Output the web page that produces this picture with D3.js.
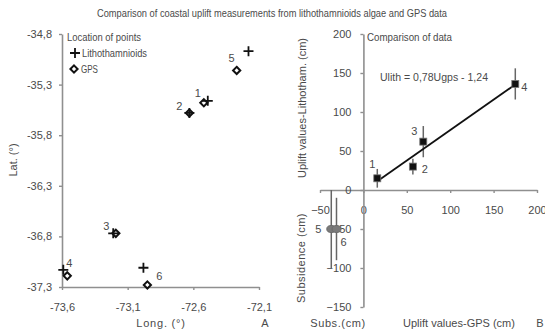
<!DOCTYPE html>
<html>
<head>
<meta charset="utf-8">
<script src="https://cdn.jsdelivr.net/npm/d3@7"></script>
<style>
  body { margin: 0; background: #fff; }
  svg { display: block; font-family: "Liberation Sans", Arial, sans-serif; }
</style>
</head>
<body>
<div id="chart"></div>
<script>
// Panel A - location of points (lon / lat)
const siteIds = ['1', '2', '3', '4', '5', '6'];
const lithLon = [-72.49, -72.63, -73.21, -73.59, -72.18, -72.98];
const lithLat = [-35.46, -35.58, -36.77, -37.13, -34.97, -37.11];
const gpsLon = [-72.52, -72.63, -73.19, -73.56, -72.27, -72.95];
const gpsLat = [-35.48, -35.58, -36.77, -37.19, -35.16, -37.28];
const lonTicks = [-73.6, -73.1, -72.6, -72.1];
const latTicks = [-34.8, -35.3, -35.8, -36.3, -36.8, -37.3];

// Panel B - comparison of data (cm)
const upliftIds = ['1', '2', '3', '4'];
const upliftGps = [16, 57, 69, 175];
const upliftLith = [15, 30, 62, 136];
const upliftErr = [12, 10, 20, 20];
const subsIds = ['5', '6'];
const subsGps = [-37, -31];
const subsLith = [-50, -50];
const subsErr = [50, 40];
const fitSlope = 0.78;
const fitIntercept = -1.24;
const gpsTicks = [-50, 0, 50, 100, 150, 200];
const lithTicks = [200, 150, 100, 50, 0, -50, -100, -150];

const W = 545, H = 332;
const axisCol = '#8f8f8f', textCol = '#4a4a4a';
const comma = v => String(v).replace('.', ',');

const svg = d3.select('#chart').append('svg')
  .attr('width', W).attr('height', H);

// condensed text: squeeze to the width seen in the original
function narrowText(sel, len) {
  sel.attr('textLength', len).attr('lengthAdjust', 'spacingAndGlyphs');
}

svg.append('text')
  .attr('x', 97).attr('y', 17)
  .attr('font-size', 10.5).attr('fill', textCol)
  .text('Comparison of coastal uplift measurements from lithothamnioids algae and GPS data')
  .call(narrowText, 350);

function styleAxis(g) {
  g.select('.domain').attr('stroke', axisCol).attr('stroke-width', 1.6);
  g.selectAll('.tick line').attr('stroke', axisCol).attr('stroke-width', 1.4);
  g.selectAll('.tick text').attr('fill', textCol).attr('font-size', 11);
}

// ---------- panel A ----------
const xA = d3.scaleLinear().domain([-73.6, -72.1]).range([62, 259]);
const yA = d3.scaleLinear().domain([-37.3, -34.8]).range([287, 34]);

svg.append('g')
  .attr('transform', `translate(0,${yA(-37.3)})`)
  .call(d3.axisBottom(xA).tickValues(lonTicks).tickFormat(comma).tickSize(3).tickPadding(13).tickSizeOuter(0))
  .call(styleAxis);

svg.append('g')
  .attr('transform', `translate(${xA(-73.6)},0)`)
  .call(d3.axisLeft(yA).tickValues(latTicks).tickFormat(comma).tickSize(3).tickPadding(7).tickSizeOuter(0))
  .call(styleAxis);

const plusPath = 'M-5,0H5M0,-5V5';
const diamondPath = 'M0,-3.6L3.6,0L0,3.6L-3.6,0Z';

const gA = svg.append('g');
gA.selectAll('.gps')
  .data(siteIds)
  .enter().append('path')
  .attr('class', 'gps')
  .attr('transform', (d, i) => `translate(${xA(gpsLon[i])},${yA(gpsLat[i])})`)
  .attr('d', diamondPath)
  .attr('fill', '#fff').attr('stroke', '#111').attr('stroke-width', 2);

gA.selectAll('.lith')
  .data(siteIds)
  .enter().append('path')
  .attr('class', 'lith')
  .attr('transform', (d, i) => `translate(${xA(lithLon[i])},${yA(lithLat[i])})`)
  .attr('d', plusPath)
  .attr('stroke', '#111').attr('stroke-width', 1.8);

// label offsets from the lithothamnioid marker
const labelOffA = [[-10, -8], [-10, -7], [-7, -7], [6, -7], [-17, 7], [16, 8]];
gA.selectAll('.lab')
  .data(siteIds)
  .enter().append('text')
  .attr('x', (d, i) => xA(lithLon[i]) + labelOffA[i][0])
  .attr('y', (d, i) => yA(lithLat[i]) + labelOffA[i][1])
  .attr('text-anchor', 'middle').attr('dy', '0.35em')
  .attr('font-size', 11).attr('fill', textCol)
  .text(d => d);

// legend
const leg = svg.append('g').attr('font-size', 10.5).attr('fill', textCol);
leg.append('text').attr('x', 67).attr('y', 41).text('Location of points').call(narrowText, 74);
leg.append('path').attr('transform', 'translate(75,53)').attr('d', plusPath)
  .attr('stroke', '#111').attr('stroke-width', 1.8);
leg.append('text').attr('x', 82).attr('y', 57).text('Lithothamnioids').call(narrowText, 65);
leg.append('path').attr('transform', 'translate(74,69)').attr('d', diamondPath)
  .attr('fill', '#fff').attr('stroke', '#111').attr('stroke-width', 2);
leg.append('text').attr('x', 81).attr('y', 73).text('GPS').call(narrowText, 17);

svg.append('text')
  .attr('transform', 'translate(17,160) rotate(-90)')
  .attr('text-anchor', 'middle').attr('font-size', 11).attr('fill', textCol)
  .text('Lat. (°)');
svg.append('text')
  .attr('x', 161).attr('y', 327)
  .attr('text-anchor', 'middle').attr('font-size', 11).attr('fill', textCol)
  .attr('letter-spacing', 0.8)
  .text('Long. (°)');
svg.append('text')
  .attr('x', 265).attr('y', 327)
  .attr('text-anchor', 'middle').attr('font-size', 11).attr('fill', textCol)
  .text('A');

// ---------- panel B ----------
const xB = d3.scaleLinear().domain([-50, 200]).range([320, 537]);
const yB = d3.scaleLinear().domain([-150, 200]).range([307, 34]);

svg.append('g')
  .attr('transform', `translate(0,${yB(0)})`)
  .call(d3.axisBottom(xB).tickValues(gpsTicks).tickSize(3).tickPadding(13).tickSizeOuter(0))
  .call(styleAxis);

svg.append('g')
  .attr('transform', `translate(${xB(0)},0)`)
  .call(d3.axisLeft(yB).tickValues(lithTicks).tickSize(3).tickPadding(9).tickSizeOuter(0))
  .call(styleAxis);

const gB = svg.append('g');

// error bars
gB.selectAll('.errU')
  .data(upliftIds)
  .enter().append('line')
  .attr('x1', (d, i) => xB(upliftGps[i])).attr('x2', (d, i) => xB(upliftGps[i]))
  .attr('y1', (d, i) => yB(upliftLith[i] - upliftErr[i]))
  .attr('y2', (d, i) => yB(upliftLith[i] + upliftErr[i]))
  .attr('stroke', '#666').attr('stroke-width', 1.5);

gB.selectAll('.errS')
  .data(subsIds)
  .enter().append('line')
  .attr('x1', (d, i) => xB(subsGps[i])).attr('x2', (d, i) => xB(subsGps[i]))
  .attr('y1', (d, i) => yB(subsLith[i] - subsErr[i]))
  .attr('y2', (d, i) => yB(subsLith[i] + subsErr[i]))
  .attr('stroke', '#666').attr('stroke-width', 1.5);

// fit line
const fitX = [d3.min(upliftGps), d3.max(upliftGps)];
gB.append('line')
  .attr('x1', xB(fitX[0])).attr('y1', yB(fitSlope * fitX[0] + fitIntercept))
  .attr('x2', xB(fitX[1])).attr('y2', yB(fitSlope * fitX[1] + fitIntercept))
  .attr('stroke', '#111').attr('stroke-width', 1.8);

gB.selectAll('.sq')
  .data(upliftIds)
  .enter().append('rect')
  .attr('x', (d, i) => xB(upliftGps[i]) - 3.5)
  .attr('y', (d, i) => yB(upliftLith[i]) - 3.5)
  .attr('width', 7).attr('height', 7)
  .attr('fill', '#111').attr('stroke', '#777').attr('stroke-width', 0.8);

gB.selectAll('.circ')
  .data(subsIds)
  .enter().append('ellipse')
  .attr('cx', (d, i) => xB(subsGps[i]))
  .attr('cy', (d, i) => yB(subsLith[i]))
  .attr('rx', 4.5).attr('ry', 3.5)
  .attr('fill', '#7a7a7a').attr('stroke', '#6a6a6a');

const labelOffU = [[-5, -14], [12, 3], [-9, -10], [9, 3]];
gB.selectAll('.labU')
  .data(upliftIds)
  .enter().append('text')
  .attr('x', (d, i) => xB(upliftGps[i]) + labelOffU[i][0])
  .attr('y', (d, i) => yB(upliftLith[i]) + labelOffU[i][1])
  .attr('text-anchor', 'middle').attr('dy', '0.35em')
  .attr('font-size', 11).attr('fill', textCol)
  .text(d => d);

const labelOffS = [[-13, 0], [7, 13]];
gB.selectAll('.labS')
  .data(subsIds)
  .enter().append('text')
  .attr('x', (d, i) => xB(subsGps[i]) + labelOffS[i][0])
  .attr('y', (d, i) => yB(subsLith[i]) + labelOffS[i][1])
  .attr('text-anchor', 'middle').attr('dy', '0.35em')
  .attr('font-size', 11).attr('fill', textCol)
  .text(d => d);

svg.append('text')
  .attr('x', 367).attr('y', 41)
  .attr('font-size', 10.5).attr('fill', textCol)
  .text('Comparison of data')
  .call(narrowText, 85);

svg.append('text')
  .attr('x', 380).attr('y', 81)
  .attr('font-size', 10).attr('fill', textCol)
  .text('Ulith = 0,78Ugps - 1,24')
  .call(narrowText, 108);

svg.append('text')
  .attr('transform', 'translate(306,108) rotate(-90)')
  .attr('text-anchor', 'middle').attr('font-size', 11).attr('fill', textCol)
  .text('Uplift values-Lithotham. (cm)');
svg.append('text')
  .attr('transform', 'translate(305,258) rotate(-90)')
  .attr('text-anchor', 'middle').attr('font-size', 11).attr('fill', textCol)
  .attr('letter-spacing', 0.5)
  .text('Subsidence (cm)');

svg.append('text')
  .attr('x', 338).attr('y', 327)
  .attr('text-anchor', 'middle').attr('font-size', 11).attr('fill', textCol)
  .attr('letter-spacing', 0.6)
  .text('Subs.(cm)');
svg.append('text')
  .attr('x', 459).attr('y', 327)
  .attr('text-anchor', 'middle').attr('font-size', 11).attr('fill', textCol)
  .text('Uplift values-GPS (cm)');
svg.append('text')
  .attr('x', 540).attr('y', 327)
  .attr('text-anchor', 'middle').attr('font-size', 11).attr('fill', textCol)
  .text('B');
</script>
</body>
</html>
